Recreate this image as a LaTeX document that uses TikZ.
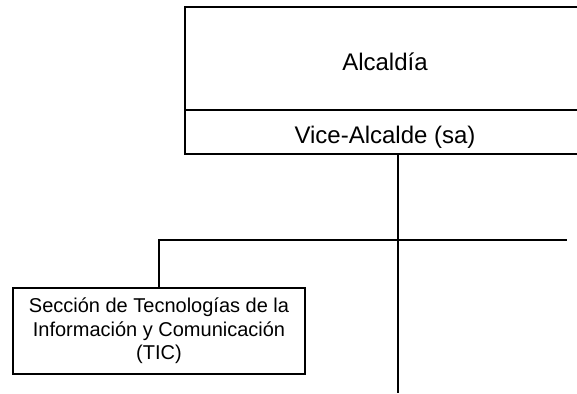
\documentclass[tikz,border=0pt]{standalone}
\usepackage{fontspec}
\setmainfont{Liberation Sans}
\begin{document}
\begin{tikzpicture}[x=1pt,y=-1pt,line width=1.6pt]
\tikzset{
  box/.style={draw=black, rectangle, inner sep=0pt, align=center, text=black},
  bigtxt/.style={font=\fontsize{24}{28}\selectfont},
  smalltxt/.style={font=\fontsize{20}{23.5}\selectfont},
  conn/.style={draw=black, line width=1.6pt}
}
\useasboundingbox (0,0) rectangle (577,393);
\clip (0,0) rectangle (577,393);
\node[box, bigtxt, minimum width=400pt, minimum height=103pt, text height=24.4pt, text depth=0pt] (alc) at (385,58.5) {Alcaldía};
\node[box, bigtxt, minimum width=400pt, minimum height=44pt, text height=22.6pt, text depth=0pt] (vice) at (385,132) {Vice-Alcalde (sa)};
\node[box, smalltxt, minimum width=292pt, minimum height=86pt] (tic) at (159,331)
  {Sección de Tecnologías de la\\Información y Comunicación\\(TIC)};
\coordinate (j) at (398,240);
\coordinate (r) at (567,240);
\coordinate (bot) at (398,393);
\draw[conn] (j |- vice.south) -- (bot);
\draw[conn] (tic.north) |- (r);
\end{tikzpicture}
\end{document}
